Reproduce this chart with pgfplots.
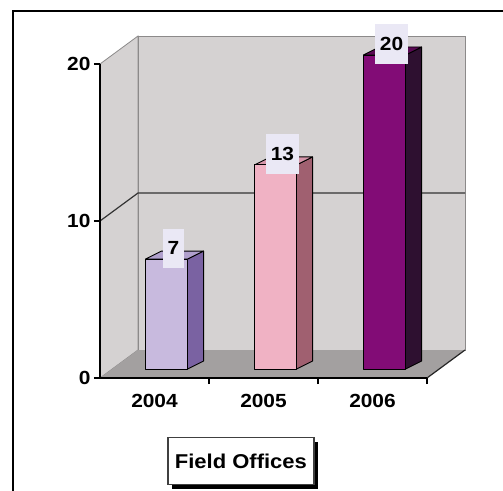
\documentclass[border=0pt]{standalone}
\usepackage{pgfplots}
\pgfplotsset{compat=1.18}
\usepackage{pgfplotstable}
\usepackage{fontspec}
\setmainfont{Liberation Sans}[FakeStretch=1.1]
\usetikzlibrary{shadows}

\definecolor{wallgray}{RGB}{213,210,210}
\definecolor{floorgray}{RGB}{163,160,160}
\definecolor{edgegray}{RGB}{140,138,138}
\definecolor{labelbg}{RGB}{234,232,245}
\definecolor{bfrontA}{RGB}{200,186,222}
\definecolor{bsideA}{RGB}{122,98,162}
\definecolor{btopA}{RGB}{176,160,204}
\definecolor{bfrontB}{RGB}{240,178,196}
\definecolor{bsideB}{RGB}{160,96,112}
\definecolor{btopB}{RGB}{214,150,170}
\definecolor{bfrontC}{RGB}{130,12,118}
\definecolor{bsideC}{RGB}{46,16,48}
\definecolor{btopC}{RGB}{90,10,84}

\pgfplotstableread{
pos year value
0 2004 7
1 2005 13
2 2006 20
}\fieldoffices

% One 3-D column: #1 category position, #2 value, #3 front, #4 side, #5 top colour.
% The column stands in the middle of the floor depth (offset 0.110/0.573),
% its own depth is 0.147 in x and 0.510 in y (data units).
\newcommand\prism[5]{%
  \pgfmathsetmacro\xa{#1-0.083}%
  \pgfmathsetmacro\xb{#1+0.303}%
  \pgfmathsetmacro\xc{#1+0.450}%
  \pgfmathsetmacro\xd{#1+0.064}%
  \pgfmathsetmacro\ya{#2+0.573}%
  \pgfmathsetmacro\yb{#2+1.083}%
  \edef\next{%
    \noexpand\addplot[fill=#4, draw=black, line width=0.9pt, line join=round]
      coordinates {(\xb,0.573) (\xb,\ya) (\xc,\yb) (\xc,1.083)} -- cycle;
    \noexpand\addplot[fill=#5, draw=black, line width=0.9pt, line join=round]
      coordinates {(\xa,\ya) (\xd,\yb) (\xc,\yb) (\xb,\ya)} -- cycle;
    \noexpand\addplot[fill=#3, draw=black, line width=0.9pt, line join=round]
      coordinates {(\xa,0.573) (\xa,\ya) (\xb,\ya) (\xb,0.573)} -- cycle;
  }\next}

\begin{document}
\begin{tikzpicture}[x=1pt,y=1pt]
\useasboundingbox (0,0) rectangle (503,490);
\fill[white] (0,0) rectangle (503,490);
\draw[line width=2.5pt] (13,-20) -- (13,479) -- (530,479);

\begin{axis}[
  at={(100pt,112pt)}, anchor=south west,
  x=109pt, y=15.7pt,
  xmin=-0.5, xmax=2.5, ymin=0, ymax=20,
  clip=false,
  axis on top,
  axis x line=bottom, axis y line=left,
  axis line style={-, black, line width=1.3pt},
  /pgf/number format/assume math mode=true,
  xtick={0.5,1.5,2.5},
  xticklabels={2004,2005,2006},
  xticklabel style={xshift=-54.5pt, yshift=-7pt},
  ytick={0,10,20},
  tick align=outside,
  major tick length=6pt,
  tick style={black, line width=1.2pt},
  tick label style={font=\bfseries\fontsize{19}{19}\selectfont},
  xlabel={Field Offices},
  xlabel style={at={(axis description cs:0.431,0)}, anchor=north,
    yshift=-59pt, draw=black!75, line width=1.3pt, fill=white,
    minimum width=146pt, minimum height=47pt, inner sep=0pt,
    font=\bfseries\fontsize{20}{20}\selectfont,
    drop shadow={shadow xshift=4pt, shadow yshift=-4pt, fill=black, opacity=1}},
]
% walls and floor
\addplot[fill=wallgray, draw=edgegray, line width=0.8pt]
  coordinates {(-0.1514,1.783) (2.8486,1.783) (2.8486,21.783) (-0.1514,21.783)} -- cycle;
\addplot[fill=wallgray, draw=edgegray, line width=0.8pt]
  coordinates {(-0.5,0) (-0.1514,1.783) (-0.1514,21.783) (-0.5,20)} -- cycle;
\addplot[fill=floorgray, draw=none]
  coordinates {(-0.5,0) (2.5,0) (2.8486,1.783) (-0.1514,1.783)} -- cycle;
\addplot[draw=black!85, line width=1.2pt] coordinates {(2.5,0) (2.8486,1.783)};
% gridline at 10
\addplot[draw=black!80, line width=1.2pt]
  coordinates {(-0.5,10) (-0.1514,11.783) (2.8486,11.783)};

% columns
\prism{0}{7}{bfrontA}{bsideA}{btopA}
\prism{1}{13}{bfrontB}{bsideB}{btopB}
\prism{2}{20}{bfrontC}{bsideC}{btopC}

% value labels
\addplot[draw=none, mark=none, nodes near coords, point meta=y,
  every node near coord/.append style={anchor=center, xshift=19pt, yshift=20pt,
    fill=labelbg, inner xsep=4.5pt, inner ysep=13pt, text=black,
    font=\bfseries\fontsize{19}{19}\selectfont}]
  table[x=pos, y=value] {\fieldoffices};
\end{axis}
\end{tikzpicture}
\end{document}
